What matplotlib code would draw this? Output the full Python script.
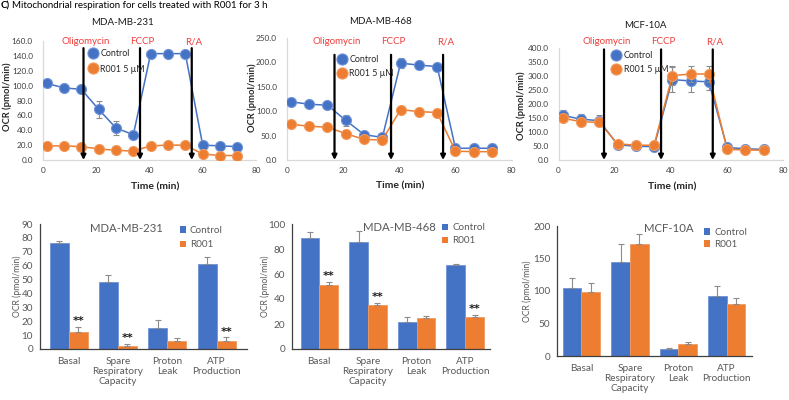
import matplotlib
matplotlib.use('Agg')
import matplotlib.pyplot as plt
import matplotlib.transforms as mtransforms
from matplotlib.patches import Patch
from matplotlib.lines import Line2D
import numpy as np

plt.rcParams['font.family'] = ['Lato', 'DejaVu Sans']

BLUE = '#4472C4'
ORANGE = '#ED7D31'
BLUE_EDGE = '#6F93D6'
ORANGE_EDGE = '#F29A5E'
GRAY = '#595959'
ERR = '#8C8C8C'
DRUG_RED = '#F03C3C'

W, H = 789, 400

# ---------------- data: time course ----------------
time_min = [1.5, 8.0, 14.5, 21.0, 27.5, 34.0, 40.5, 47.0, 53.5, 60.0, 66.5, 73.0]
drugs = ['Oligomycin', 'FCCP', 'R/A']
cells = ['MDA-MB-231', 'MDA-MB-468', 'MCF-10A']
series_names = ['Control', 'R001 5 \u00b5M']

ctrl_231 = [103, 97, 95, 68, 43, 34, 143, 143, 143, 20, 19, 18]
ctrl_231_err = [2, 2, 2, 12, 10, 2, 2, 2, 2, 2, 2, 2]
r001_231 = [19, 19, 18, 15, 13, 12, 19, 20, 20, 8, 6, 6]
r001_231_err = [4, 2, 2, 2, 2, 2, 2, 2, 3, 1, 1, 1]
inject_231 = [15.3, 36.5, 55.9]

ctrl_468 = [119, 114, 112, 81, 52, 46, 198, 194, 191, 24, 24, 24]
ctrl_468_err = [4, 3, 3, 12, 4, 3, 10, 8, 6, 2, 2, 2]
r001_468 = [73, 69, 67, 54, 42, 41, 103, 99, 97, 18, 17, 17]
r001_468_err = [3, 3, 3, 8, 3, 3, 4, 3, 3, 2, 2, 2]
inject_468 = [17.0, 37.1, 55.6]

ctrl_10a = [160, 146, 141, 55, 49, 48, 288, 283, 280, 45, 40, 38]
ctrl_10a_err = [20, 20, 20, 5, 5, 5, 45, 40, 30, 5, 3, 3]
r001_10a = [150, 137, 135, 58, 53, 53, 302, 308, 308, 38, 36, 35]
r001_10a_err = [10, 10, 10, 5, 5, 5, 35, 30, 30, 3, 3, 3]
inject_10a = [16.2, 36.5, 54.9]

# ---------------- data: bar summaries ----------------
categories = ['Basal', 'Spare\nRespiratory\nCapacity', 'Proton\nLeak', 'ATP\nProduction']
bar_names = ['Control', 'R001']

bar_ctrl_231 = [76, 48.5, 15, 61]
bar_ctrl_231_err = [2, 5, 6, 5]
bar_r001_231 = [12, 2, 6, 6]
bar_r001_231_err = [4, 1.5, 2, 2.5]
sig_231 = [True, True, False, True]

bar_ctrl_468 = [89, 85.5, 22, 67]
bar_ctrl_468_err = [5, 9, 4, 0.8]
bar_r001_468 = [51, 35, 25, 26]
bar_r001_468_err = [2.5, 2, 1.5, 1.5]
sig_468 = [True, True, False, True]

bar_ctrl_10a = [104, 145, 11, 92]
bar_ctrl_10a_err = [16, 28, 2, 16]
bar_r001_10a = [98, 173, 18, 80]
bar_r001_10a_err = [15, 15, 4, 10]
sig_10a = [False, False, False, False]


def fx(px):
    return px / W


def fy(py):
    return 1 - py / H


def axes_px(l, t, r, b):
    return [fx(l), fy(b), (r - l) / W, (b - t) / H]


fig = plt.figure(figsize=(W / 100, H / 100), dpi=100)
renderer = fig.canvas.get_renderer()


def fit_size(s, target_px, weight='normal'):
    """font size (pt) so that string s is about target_px wide (slightly enlarged for x-height)"""
    t = fig.text(0, 0, s, fontsize=10, fontweight=weight)
    w = t.get_window_extent(renderer).width
    t.remove()
    return 1.05 * 10.0 * (target_px + 1.5) / w


FS_HEADER = fit_size('C) Mitochondrial respiration for cells treated with R001 for 3 h', 254)
FS_TITLE_TOP = fit_size('MDA-MB-231', 58)
FS_DRUG = fit_size('Oligomycin', 45)
FS_TICK_TOP = fit_size('160.0', 18.5)
FS_XLAB = fit_size('Time (min)', 45, 'bold')
FS_YLAB_TOP = fit_size('OCR (pmol/min)', 63, 'bold')
FS_LEG_TOP = fit_size('R001 5 \u00b5M', 41)
FS_TITLE_BOT = fit_size('MDA-MB-231', 68)
FS_LEG_BOT = fit_size('Control', 30)
FS_CAT = fit_size('Production', 45)
FS_YTICK_BOT = fit_size('100', 15)
FS_YLAB_BOT = fit_size('OCR (pmol/min)', 57)

# header
t1 = fig.text(fx(1), fy(5.5), 'C)', fontsize=FS_HEADER, fontweight='bold', va='center', ha='left')
bb = t1.get_window_extent(renderer)
fig.text(fx(1) + (bb.width + 2) / W, fy(5.5), 'Mitochondrial respiration for cells treated with R001 for 3 h',
         fontsize=FS_HEADER, va='center', ha='left')

# ---------------- time-course panels ----------------
line_panels = [
    dict(rect=(42.7, 41, 256, 160), ymax=160, ystep=20, ctrl=ctrl_231, ce=ctrl_231_err,
         r=r001_231, re=r001_231_err, inj=inject_231, arrow_top=0.94,
         title=(123, 22.3), xlab=(155, 186.5), ylab=(7, 97), leg=(88.5, 49.5), legsp=0.68),
    dict(rect=(286.7, 37.7, 511.7, 160), ymax=250, ystep=50, ctrl=ctrl_468, ce=ctrl_468_err,
         r=r001_468, re=r001_468_err, inj=inject_468, arrow_top=0.86,
         title=(380, 21.7), xlab=(399.7, 185.5), ylab=(252.5, 97.5), leg=(337.5, 55.5), legsp=0.55),
    dict(rect=(558.5, 48.3, 783.3, 160), ymax=400, ystep=50, ctrl=ctrl_10a, ce=ctrl_10a_err,
         r=r001_10a, re=r001_10a_err, inj=inject_10a, arrow_top=0.99,
         title=(645, 25), xlab=(672, 186.5), ylab=(521.7, 106), leg=(612, 51.5), legsp=0.52),
]

for p, cell in zip(line_panels, cells):
    ax = fig.add_axes(axes_px(*p['rect']))
    ax.errorbar(time_min, p['ctrl'], yerr=p['ce'], color=BLUE, lw=1.1, marker='o', ms=7.2,
                mfc=BLUE, mec=BLUE_EDGE, mew=0.8, ecolor=ERR, elinewidth=0.8, capsize=2, capthick=0.8,
                zorder=3)
    ax.errorbar(time_min, p['r'], yerr=p['re'], color=ORANGE, lw=1.1, marker='o', ms=7.2,
                mfc=ORANGE, mec=ORANGE_EDGE, mew=0.8, ecolor=ERR, elinewidth=0.8, capsize=2, capthick=0.8,
                zorder=4)
    ax.set_xlim(0, 80)
    ax.set_ylim(0, p['ymax'])
    ax.set_xticks(np.arange(0, 81, 20))
    ax.set_yticks(np.arange(0, p['ymax'] + 0.1, p['ystep']))
    ax.set_yticklabels(['%.1f' % v for v in np.arange(0, p['ymax'] + 0.1, p['ystep'])])
    for s in ['right', 'top']:
        ax.spines[s].set_visible(False)
    for s in ['left', 'bottom']:
        ax.spines[s].set_color('#D9D9D9')
        ax.spines[s].set_linewidth(0.9)
    ax.tick_params(length=0, labelsize=FS_TICK_TOP, colors='#404040', pad=5)
    ax.tick_params(axis='y', pad=7)

    trans = mtransforms.blended_transform_factory(ax.transData, fig.transFigure)
    for xi, name in zip(p['inj'], drugs):
        ax.annotate('', xy=(xi, 0), xytext=(xi, p['ymax'] * p['arrow_top']),
                    arrowprops=dict(arrowstyle='-|>', color='black', lw=1.6, mutation_scale=7,
                                    shrinkA=0, shrinkB=0), zorder=5)
        ax.text(xi + 0.8, fy(41.7), name, transform=trans, color=DRUG_RED, fontsize=FS_DRUG,
                ha='center', va='center', clip_on=False)

    handles = [Line2D([], [], ls='none', marker='o', ms=8, mfc=BLUE, mec=BLUE_EDGE, mew=0.8),
               Line2D([], [], ls='none', marker='o', ms=8, mfc=ORANGE, mec=ORANGE_EDGE, mew=0.8)]
    ax.legend(handles, series_names, loc='upper left', bbox_to_anchor=(fx(p['leg'][0]), fy(p['leg'][1])),
              bbox_transform=fig.transFigure, frameon=False, fontsize=FS_LEG_TOP, handlelength=1.0,
              handletextpad=0.35, borderpad=0, borderaxespad=0, labelspacing=p['legsp'],
              labelcolor='#262626')

    fig.text(fx(p['title'][0]), fy(p['title'][1]), cell, fontsize=FS_TITLE_TOP, ha='center', va='center',
             color='#1a1a1a')
    fig.text(fx(p['xlab'][0]), fy(p['xlab'][1]), 'Time (min)', fontsize=FS_XLAB, fontweight='bold',
             ha='center', va='center', color='#262626')
    fig.text(fx(p['ylab'][0]), fy(p['ylab'][1]), 'OCR (pmol/min)', fontsize=FS_YLAB_TOP, fontweight='bold',
             rotation=90, ha='center', va='center', color='#262626')

# ---------------- bar panels ----------------
bar_panels = [
    dict(rect=(40, 224, 246.7, 349), ymax=90, ystep=10, xlim=(-0.58, 3.61),
         c=bar_ctrl_231, ce=bar_ctrl_231_err, r=bar_r001_231, re=bar_r001_231_err, sig=sig_231,
         title=(126.7, 228.3), ylab=(17, 286), leg=(179.5, 226)),
    dict(rect=(292.3, 224, 490, 349), ymax=100, ystep=20, xlim=(-0.555, 3.51),
         c=bar_ctrl_468, ce=bar_ctrl_468_err, r=bar_r001_468, re=bar_r001_468_err, sig=sig_468,
         title=(399, 227.7), ylab=(265, 286), leg=(441.8, 223.5)),
    dict(rect=(557.3, 226, 751.7, 356), ymax=200, ystep=50, xlim=(-0.5, 3.52),
         c=bar_ctrl_10a, ce=bar_ctrl_10a_err, r=bar_r001_10a, re=bar_r001_10a_err, sig=sig_10a,
         title=(669.3, 229), ylab=(527, 291), leg=(703.6, 228)),
]
bar_legsp = [0.55, 0.4, 0.3]

bw = 0.386
xpos = np.arange(len(categories))
for p, cell, lsp in zip(bar_panels, cells, bar_legsp):
    ax = fig.add_axes(axes_px(*p['rect']))
    ax.bar(xpos - bw / 2, p['c'], width=bw, color=BLUE, edgecolor='#6F93D6', linewidth=0.6, zorder=2)
    ax.bar(xpos + bw / 2, p['r'], width=bw, color=ORANGE, edgecolor='#F29A5E', linewidth=0.6, zorder=2)
    ax.errorbar(xpos - bw / 2, p['c'], yerr=[np.zeros(4), p['ce']], fmt='none', ecolor=ERR,
                elinewidth=0.8, capsize=2.5, capthick=0.8, zorder=3)
    ax.errorbar(xpos + bw / 2, p['r'], yerr=[np.zeros(4), p['re']], fmt='none', ecolor=ERR,
                elinewidth=0.8, capsize=2.5, capthick=0.8, zorder=3)
    for i, s in enumerate(p['sig']):
        if s:
            ax.annotate('**', xy=(xpos[i] + bw / 2, p['r'][i] + p['re'][i]), xytext=(0, 0.5),
                        textcoords='offset points', ha='center', va='bottom', fontsize=8,
                        fontweight='bold', color='#1a1a1a', family='DejaVu Sans')
    ax.set_xlim(*p['xlim'])
    ax.set_ylim(0, p['ymax'])
    ax.set_yticks(np.arange(0, p['ymax'] + 0.1, p['ystep']))
    ax.set_xticks(xpos)
    ax.set_xticklabels(categories, linespacing=1.12)
    for s in ['right', 'top']:
        ax.spines[s].set_visible(False)
    for s in ['left', 'bottom']:
        ax.spines[s].set_color('#404040')
        ax.spines[s].set_linewidth(0.9)
    ax.tick_params(axis='y', length=0, labelsize=FS_YTICK_BOT, colors=GRAY, pad=5)
    ax.tick_params(axis='x', length=0, labelsize=FS_CAT, colors=GRAY, pad=6)

    handles = [Patch(facecolor=BLUE), Patch(facecolor=ORANGE)]
    ax.legend(handles, bar_names, loc='upper left', bbox_to_anchor=(fx(p['leg'][0]), fy(p['leg'][1])),
              bbox_transform=fig.transFigure, frameon=False, fontsize=FS_LEG_BOT, handlelength=0.65,
              handleheight=0.65, handletextpad=0.4, borderpad=0, borderaxespad=0, labelspacing=lsp,
              labelcolor=GRAY)

    fig.text(fx(p['title'][0]), fy(p['title'][1]), cell, fontsize=FS_TITLE_BOT, ha='center', va='center',
             color=GRAY)
    fig.text(fx(p['ylab'][0]), fy(p['ylab'][1]), 'OCR (pmol/min)', fontsize=FS_YLAB_BOT, rotation=90,
             ha='center', va='center', color=GRAY)

fig.savefig('out.png', dpi=100)
